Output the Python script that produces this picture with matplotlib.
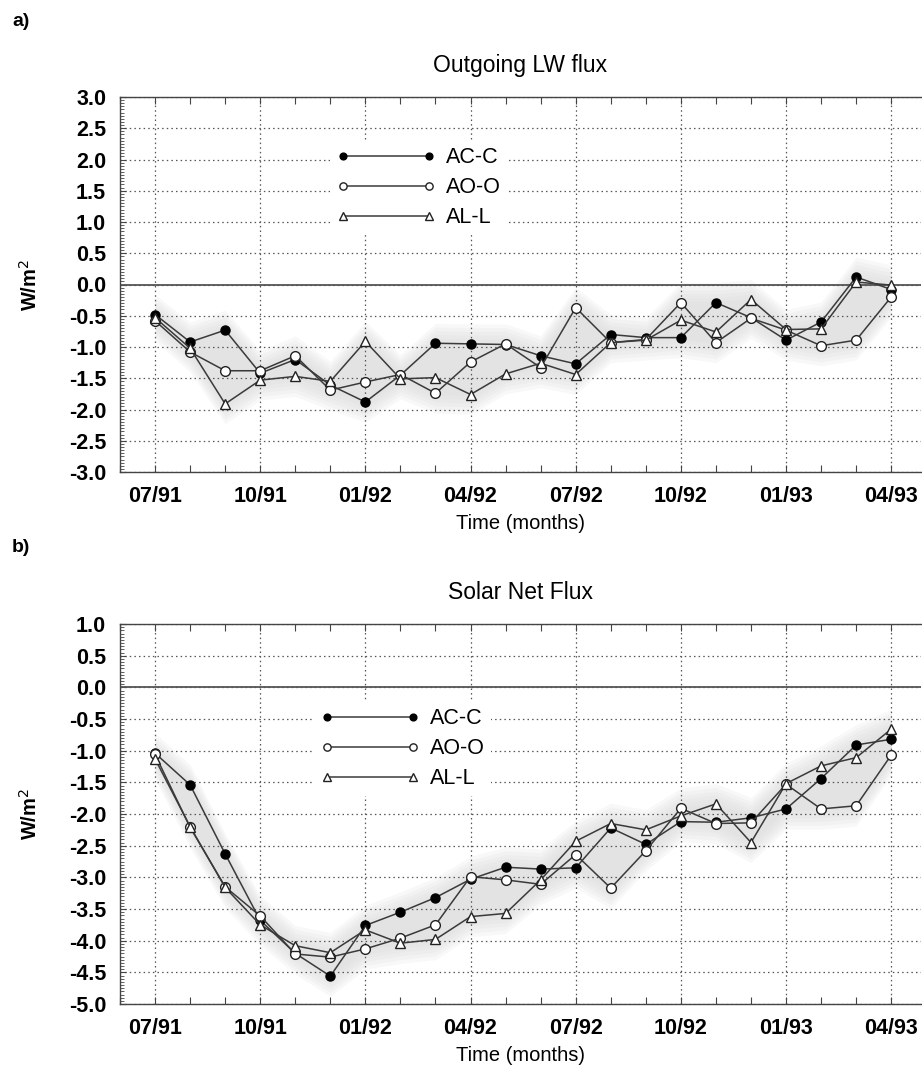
import numpy as np
import matplotlib
matplotlib.use("Agg")
import matplotlib.pyplot as plt
from matplotlib.ticker import MultipleLocator, FixedLocator

plt.rcParams['font.family'] = ['Liberation Sans', 'DejaVu Sans']

# ---- data ----
month_labels = ['07/91', '10/91', '01/92', '04/92', '07/92', '10/92', '01/93', '04/93']
n_months = 22

lw_acc = [-0.48, -0.92, -0.73, -1.42, -1.20, -1.61, -1.88, -1.45, -0.94, -0.95, -0.96,
          -1.14, -1.27, -0.80, -0.85, -0.85, -0.29, -0.53, -0.89, -0.60, 0.12, -0.08]
lw_aoo = [-0.58, -1.08, -1.38, -1.38, -1.14, -1.69, -1.56, -1.44, -1.74, -1.24, -0.95,
          -1.33, -0.37, -0.93, -0.88, -0.29, -0.93, -0.54, -0.73, -0.98, -0.89, -0.20]
lw_all = [-0.53, -1.02, -1.91, -1.53, -1.47, -1.55, -0.91, -1.51, -1.49, -1.76, -1.43,
          -1.26, -1.44, -0.93, -0.89, -0.57, -0.76, -0.24, -0.72, -0.71, 0.04, -0.01]

sw_acc = [-1.04, -1.54, -2.63, -3.68, -4.20, -4.56, -3.76, -3.55, -3.32, -3.03, -2.84,
          -2.87, -2.85, -2.22, -2.48, -2.12, -2.13, -2.06, -1.92, -1.44, -0.91, -0.82]
sw_aoo = [-1.06, -2.21, -3.15, -3.61, -4.21, -4.26, -4.13, -3.96, -3.75, -2.99, -3.04,
          -3.11, -2.64, -3.17, -2.58, -1.91, -2.15, -2.14, -1.53, -1.92, -1.87, -1.07]
sw_all = [-1.13, -2.20, -3.16, -3.75, -4.08, -4.19, -3.83, -4.04, -3.98, -3.62, -3.57,
          -3.04, -2.43, -2.15, -2.25, -2.03, -1.84, -2.45, -1.52, -1.24, -1.11, -0.66]

series_names = ['AC-C', 'AO-O', 'AL-L']

fig = plt.figure(figsize=(9.22, 10.66), dpi=100)

W, H = 922.0, 1066.0
def ax_rect(left, top, right, bottom):
    return [left / W, 1 - bottom / H, (right - left) / W, (bottom - top) / H]

ax1 = fig.add_axes(ax_rect(120, 97, 921, 472))
ax2 = fig.add_axes(ax_rect(120, 624, 921, 1004))

line_col = '#3a3a3a'

def draw_panel(ax, data, ylim, title, legend_anchor):
    x = np.arange(n_months)
    arr = np.array(data)
    lo = arr.min(axis=0)
    hi = arr.max(axis=0)
    # soft gray envelope
    for pad in [0.32, 0.26, 0.20, 0.14, 0.08, 0.02]:
        ax.fill_between(x, lo - pad, hi + pad, color='#d8d8d8', alpha=0.16, lw=0, zorder=1)

    ax.axhline(0, color='#555555', lw=1.3, zorder=2)

    styles = [dict(marker='o', mfc='black', mec='black', ms=6.5),
              dict(marker='o', mfc='white', mec='#222222', ms=7, mew=1.0),
              dict(marker='^', mfc='white', mec='#222222', ms=7, mew=1.0)]
    handles = []
    for vals, st, name in zip(data, styles, series_names):
        h, = ax.plot(x, vals, color=line_col, lw=1.1, zorder=4, label=name, **st)
        handles.append(h)

    ax.set_xlim(-1, 21.85)
    ax.set_ylim(*ylim)
    ax.yaxis.set_major_locator(MultipleLocator(0.5))
    ax.yaxis.set_minor_locator(MultipleLocator(0.05))
    ax.set_yticklabels([f'{v:.1f}' for v in ax.get_yticks()])
    ax.xaxis.set_major_locator(FixedLocator(np.arange(0, n_months, 3)))
    ax.xaxis.set_minor_locator(FixedLocator(np.arange(-1, n_months)))
    ax.set_xticklabels(month_labels)

    ax.tick_params(axis='both', which='both', direction='in', color='#444444')
    ax.tick_params(axis='x', which='both', top=True, bottom=True, length=5, width=0.8)
    ax.tick_params(axis='y', which='major', length=4, width=0.8)
    ax.tick_params(axis='y', which='minor', length=3, width=0.6)
    ax.tick_params(axis='y', which='major', pad=10, labelsize=15.5)
    ax.tick_params(axis='x', which='major', pad=10, labelsize=15.5)
    for lab in ax.get_xticklabels() + ax.get_yticklabels():
        lab.set_fontweight('bold')

    ax.grid(True, which='major', axis='both', color='#555555', ls=(0, (1.2, 2.5)), lw=0.9, zorder=0)

    for s in ax.spines.values():
        s.set_color('#444444')
        s.set_linewidth(1.0)
    ax.spines['right'].set_visible(False)

    ax.set_xlabel('Time (months)', fontsize=14.5, labelpad=5)
    ax.set_ylabel('W/m$^2$', fontsize=14.5, fontweight='bold', labelpad=20)
    ax.set_title(title, fontsize=16.5, pad=18)

    leg = ax.legend(handles=handles, loc='upper left', bbox_to_anchor=legend_anchor,
                    numpoints=2, handlelength=4.6, handletextpad=0.5, labelspacing=0.42,
                    frameon=True, framealpha=1.0, edgecolor='none', facecolor='white',
                    fontsize=15.5, borderpad=0.3, fancybox=False, markerscale=0.75)
    leg.set_zorder(5)

draw_panel(ax1, [lw_acc, lw_aoo, lw_all], (-3.0, 3.0), 'Outgoing LW flux',
           ((319 - 120) / 801.0, (472 - 130) / 375.0))
draw_panel(ax2, [sw_acc, sw_aoo, sw_all], (-5.0, 1.0), 'Solar Net Flux',
           ((303 - 120) / 801.0, (1004 - 691) / 380.0))

fig.text(12 / W, 1 - 22 / H, 'a)', fontsize=14, fontweight='bold', va='center', ha='left')
fig.text(12 / W, 1 - 548 / H, 'b)', fontsize=14, fontweight='bold', va='center', ha='left')

fig.savefig('out.png', dpi=100)
